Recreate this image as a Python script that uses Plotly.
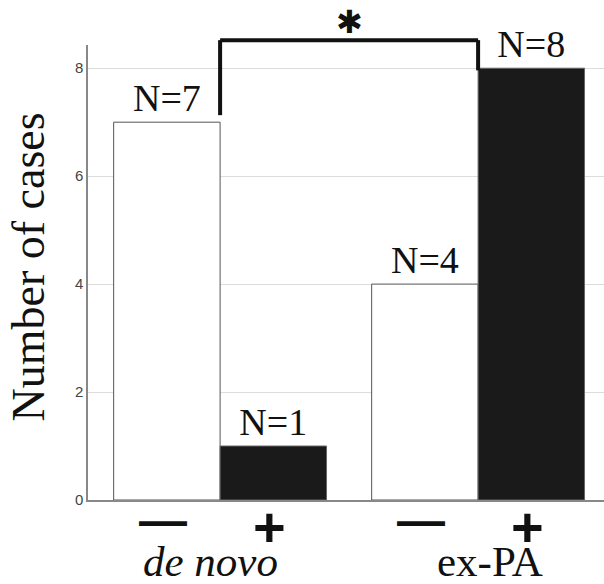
import plotly.graph_objects as go

# ---- data ----
groups = ["de novo", "ex-PA"]
group_labels = ["<i>de novo</i>", "ex-PA"]
signs = ["—", "+"]
neg_counts = [7, 4]
pos_counts = [1, 8]
y_ticks = [0, 2, 4, 6, 8]

# ---- style constants ----
W, H = 604, 584
ML, MR, MT, MB = 88, 0, 45, 84
YMAX = 8.43
SERIF = "Liberation Serif"
SANS = "Liberation Sans"
BAR_PX = 53  # one bar width in px (offset from group centre)

fig = go.Figure()
fig.add_trace(go.Bar(
    x=groups, y=neg_counts, name="—",
    marker=dict(color="white", line=dict(color="#555", width=1)),
    text=[f"N={v}" for v in neg_counts], textposition="outside",
    textfont=dict(family=SERIF, size=38, color="#111"),
    cliponaxis=False,
))
fig.add_trace(go.Bar(
    x=groups, y=pos_counts, name="+",
    marker=dict(color="#1a1a1a", line=dict(color="#666", width=1)),
    text=[f"N={v}" for v in pos_counts], textposition="outside",
    textfont=dict(family=SERIF, size=38, color="#111"),
    cliponaxis=False,
))

annotations = []
# sign labels under each bar
for g in groups:
    for k, s in enumerate(signs):
        off = -BAR_PX if k == 0 else BAR_PX
        annotations.append(dict(
            x=g, xref="x", y=0, yref="paper", text=f"<b>{s}</b>", showarrow=False,
            xanchor="center", yanchor="middle",
            xshift=off - 4, yshift=-20 if k == 0 else -26,
            font=dict(family=SANS, size=48 if k == 0 else 56, color="#111"),
        ))
# group labels
gshift = [-10, 12]
for g, lab, sh in zip(groups, group_labels, gshift):
    annotations.append(dict(
        x=g, xref="x", y=0, yref="paper", text=lab, showarrow=False,
        xanchor="center", yanchor="middle", xshift=sh, yshift=-61,
        font=dict(family=SERIF, size=43, color="#111"),
    ))
# y title
annotations.append(dict(
    x=0, xref="paper", y=0.511, yref="paper", text="Number of cases",
    showarrow=False, textangle=-90, xanchor="center", yanchor="middle",
    xshift=-60, font=dict(family=SERIF, size=46, color="#111"),
))
# significance asterisk
annotations.append(dict(
    x=0.5, xref="x", y=1, yref="paper", text="✱", showarrow=False,
    xanchor="center", yanchor="middle", yshift=23,
    font=dict(family="DejaVu Sans", size=32, color="#111"),
))

# significance bracket (y in paper units derived from data scale)
top = 8.52 / YMAX
left_bottom = (neg_counts[0] + 0.13) / YMAX
right_bottom = (pos_counts[1] - 0.04) / YMAX
line = dict(color="#111", width=4)
shapes = [
    dict(type="line", xref="x", yref="paper", x0=0, x1=0, y0=left_bottom, y1=top, line=line),
    dict(type="line", xref="x", yref="paper", x0=0, x1=1, y0=top, y1=top, line=line),
    dict(type="line", xref="x", yref="paper", x0=1, x1=1, y0=top, y1=right_bottom, line=line),
]

fig.update_layout(
    width=W, height=H,
    margin=dict(l=ML, r=MR, t=MT, b=MB),
    paper_bgcolor="white", plot_bgcolor="white",
    barmode="group", bargap=0.175, bargroupgap=0,
    showlegend=False,
    annotations=annotations, shapes=shapes,
    xaxis=dict(range=[-0.512, 1.488], showticklabels=False, ticks="",
               showline=True, linecolor="#888", linewidth=1.5, showgrid=False,
               fixedrange=True),
    yaxis=dict(range=[0, YMAX], tickvals=y_ticks, showline=True,
               linecolor="#888", linewidth=1.5, gridcolor="#dcdcdc",
               zeroline=False, ticks="", ticklen=0,
               tickfont=dict(family=SANS, size=15, color="#444"),
               fixedrange=True),
)

fig.write_html(
    "out.html",
    config={"displayModeBar": False},
    post_script="document.body.style.margin='0';document.body.style.overflow='hidden';",
)
